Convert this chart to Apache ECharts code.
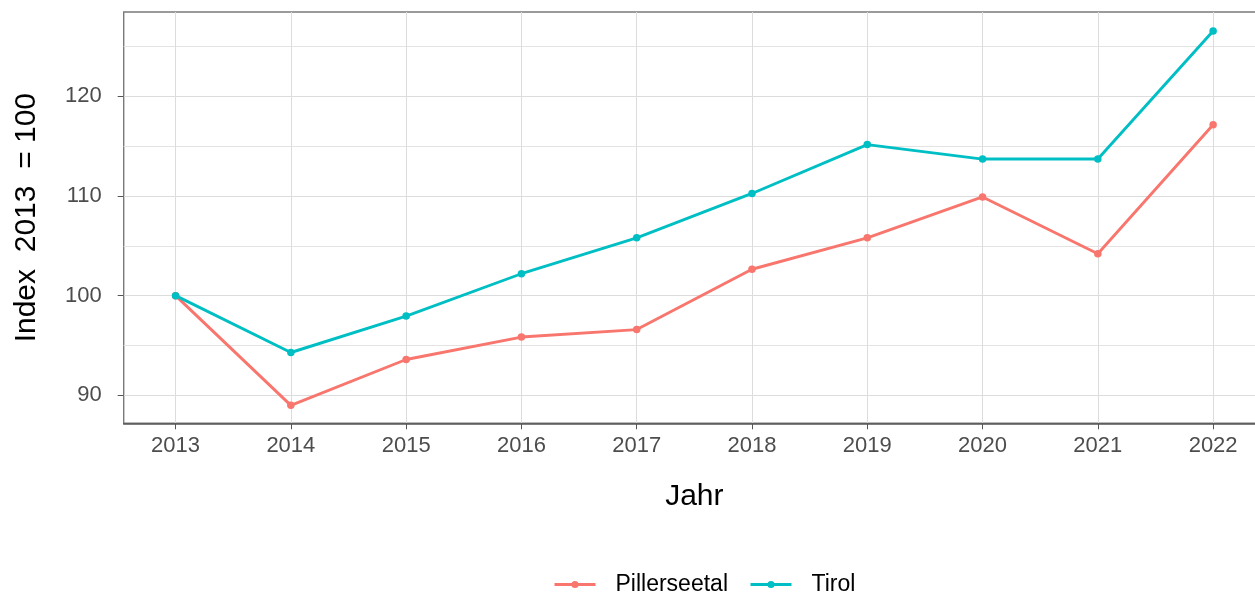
<!DOCTYPE html>
<html>
<head>
<meta charset="utf-8">
<script src="https://cdn.jsdelivr.net/npm/echarts@6/dist/echarts.min.js"></script>
<style>
  html, body { margin: 0; padding: 0; background: #fff; }
  #chart { width: 1255px; height: 597px; }
</style>
</head>
<body>
<div id="chart"></div>
<script>
var FONT = '"Liberation Sans", Arial, sans-serif';

var years = [2013, 2014, 2015, 2016, 2017, 2018, 2019, 2020, 2021, 2022];
var pillerseetal = [100, 89.0, 93.6, 95.85, 96.6, 102.65, 105.8, 109.9, 104.2, 117.15];
var tirol = [100, 94.3, 97.95, 102.2, 105.8, 110.25, 115.15, 113.7, 113.7, 126.55];
var yTicks = [90, 100, 110, 120];
var yMinor = [95, 105, 115, 125];

function pairs(vals) {
  return years.map(function (y, i) { return [y, vals[i]]; });
}

var chart = echarts.init(document.getElementById('chart'));

var option = {
  animation: false,
  backgroundColor: '#fff',
  textStyle: { fontFamily: FONT },
  grid: {
    left: 123.7, top: 12, right: -10, bottom: 173.7,
    show: true, borderColor: '#7a7a7a', borderWidth: 1.4,
    containLabel: false, outerBoundsMode: 'none'
  },
  legend: {
    data: ['Pillerseetal', 'Tirol'],
    left: 548, top: 568,
    itemWidth: 41, itemHeight: 9, itemGap: 21,
    lineStyle: { width: 3 },
    textStyle: { fontSize: 23, color: '#000', fontFamily: FONT, padding: [0, 0, 0, 15] }
  },
  xAxis: {
    type: 'value',
    min: 2012.55, max: 2022.45,
    name: 'Jahr', nameLocation: 'middle', nameGap: 58,
    nameTextStyle: { fontSize: 30, color: '#000', fontFamily: FONT },
    axisLine: { show: true, onZero: false, lineStyle: { color: '#555', width: 1.5 } },
    axisTick: { show: true, length: 6, customValues: years, lineStyle: { color: '#555', width: 1 } },
    axisLabel: {
      customValues: years, margin: 12, fontSize: 22, color: '#4d4d4d', fontFamily: FONT,
      formatter: function (v) { return String(v); }
    },
    splitLine: { show: true, lineStyle: { color: '#dcdcdc', width: 1 } }
  },
  yAxis: [{
    type: 'value',
    min: 87.2, max: 128.45,
    name: 'Index  2013  = 100', nameLocation: 'middle', nameGap: 82, nameRotate: 90,
    nameTextStyle: { fontSize: 30, color: '#000', fontFamily: FONT },
    axisLine: { show: false },
    axisTick: { show: true, length: 6, customValues: yTicks, lineStyle: { color: '#555', width: 1 } },
    axisLabel: {
      customValues: yTicks, margin: 22, fontSize: 22, color: '#4d4d4d', fontFamily: FONT,
      formatter: function (v) { return String(v); }
    },
    splitLine: { show: true, lineStyle: { color: '#dcdcdc', width: 1 } }
  }, {
    type: 'value',
    min: 87.2, max: 128.45,
    position: 'left',
    axisLine: { show: false },
    axisTick: { show: false, customValues: yMinor },
    axisLabel: { show: false },
    splitLine: { show: true, lineStyle: { color: '#e3e3e3', width: 1 } }
  }],
  series: [
    {
      name: 'Pillerseetal', type: 'line', data: pairs(pillerseetal),
      color: '#F8766D', symbol: 'circle', symbolSize: 7.5,
      lineStyle: { width: 2.9 }, itemStyle: { color: '#F8766D' }
    },
    {
      name: 'Tirol', type: 'line', data: pairs(tirol),
      color: '#00BFC4', symbol: 'circle', symbolSize: 7.5,
      lineStyle: { width: 2.9 }, itemStyle: { color: '#00BFC4' }
    }
  ]
};

chart.setOption(option);
</script>
</body>
</html>
